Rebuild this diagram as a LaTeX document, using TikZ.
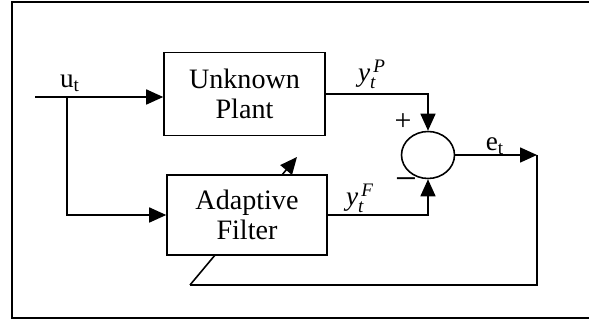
\documentclass[tikz,border=0pt]{standalone}
\usepackage{fontspec}
\usepackage{amsmath}
\setmainfont{Liberation Serif}
\usetikzlibrary{arrows.meta, shapes.geometric, positioning}

\begin{document}
\begin{tikzpicture}[x=0.02cm, y=-0.02cm, line width=0.9pt,
    box/.style={rectangle, draw, fill=white, align=center, inner sep=0pt, font=\fontsize{16}{17}\selectfont},
    sum/.style={ellipse, draw, fill=white, minimum width=1.06cm, minimum height=0.94cm, inner sep=0pt},
    lbl/.style={inner sep=0pt, font=\fontsize{15.5}{17}\selectfont},
    sig/.style={-{Triangle[length=3.4mm, width=3mm]}}]
\useasboundingbox (0,0) rectangle (589,320);
\draw[line width=1.2pt] (589,2) -- (12,2) -- (12,318) -- (589,318);
% adaptation arrow, crossed by the filter box
\coordinate (fbl) at (190,285);
\coordinate (tune) at (297,157);
\draw[sig] (fbl) -- (tune);
\node[box, minimum width=3.22cm, minimum height=1.66cm] (plant) at (244.5,94) {Unknown\\Plant};
\node[box, minimum width=3.2cm, minimum height=1.6cm] (filter) at (247,215) {Adaptive\\Filter};
\node[sum] (sum) at (428,155) {};
\coordinate (in) at (35,97);
\coordinate (br) at (67,97);
\coordinate (out) at (537,155);
\draw[sig] (in) -- (in -| plant.west);
\draw[sig] (br) |- (filter.west);
\draw[sig] (plant.east) -| (sum.north);
\draw[sig] (filter.east) -| (sum.south);
\draw[sig] (sum.east) -- (out);
\draw (out) |- (fbl);
% labels
\node[lbl] (ut) at (70,83) {u\textsubscript{t}};
\node[lbl] (yp) at (372,74) {$\textit{y}_{\textit{t}}^{\,\textit{P}}$};
\node[lbl] (yf) at (360,198) {$\textit{y}_{\textit{t}}^{\,\textit{F}}$};
\node[lbl] (et) at (495,146) {e\textsubscript{t}};
\node[lbl, font=\fontsize{17}{17}\selectfont] (plus) at (403,122) {+};
\node[lbl, font=\fontsize{22}{22}\selectfont] (minus) at (406,185) {−};
\end{tikzpicture}
\end{document}
